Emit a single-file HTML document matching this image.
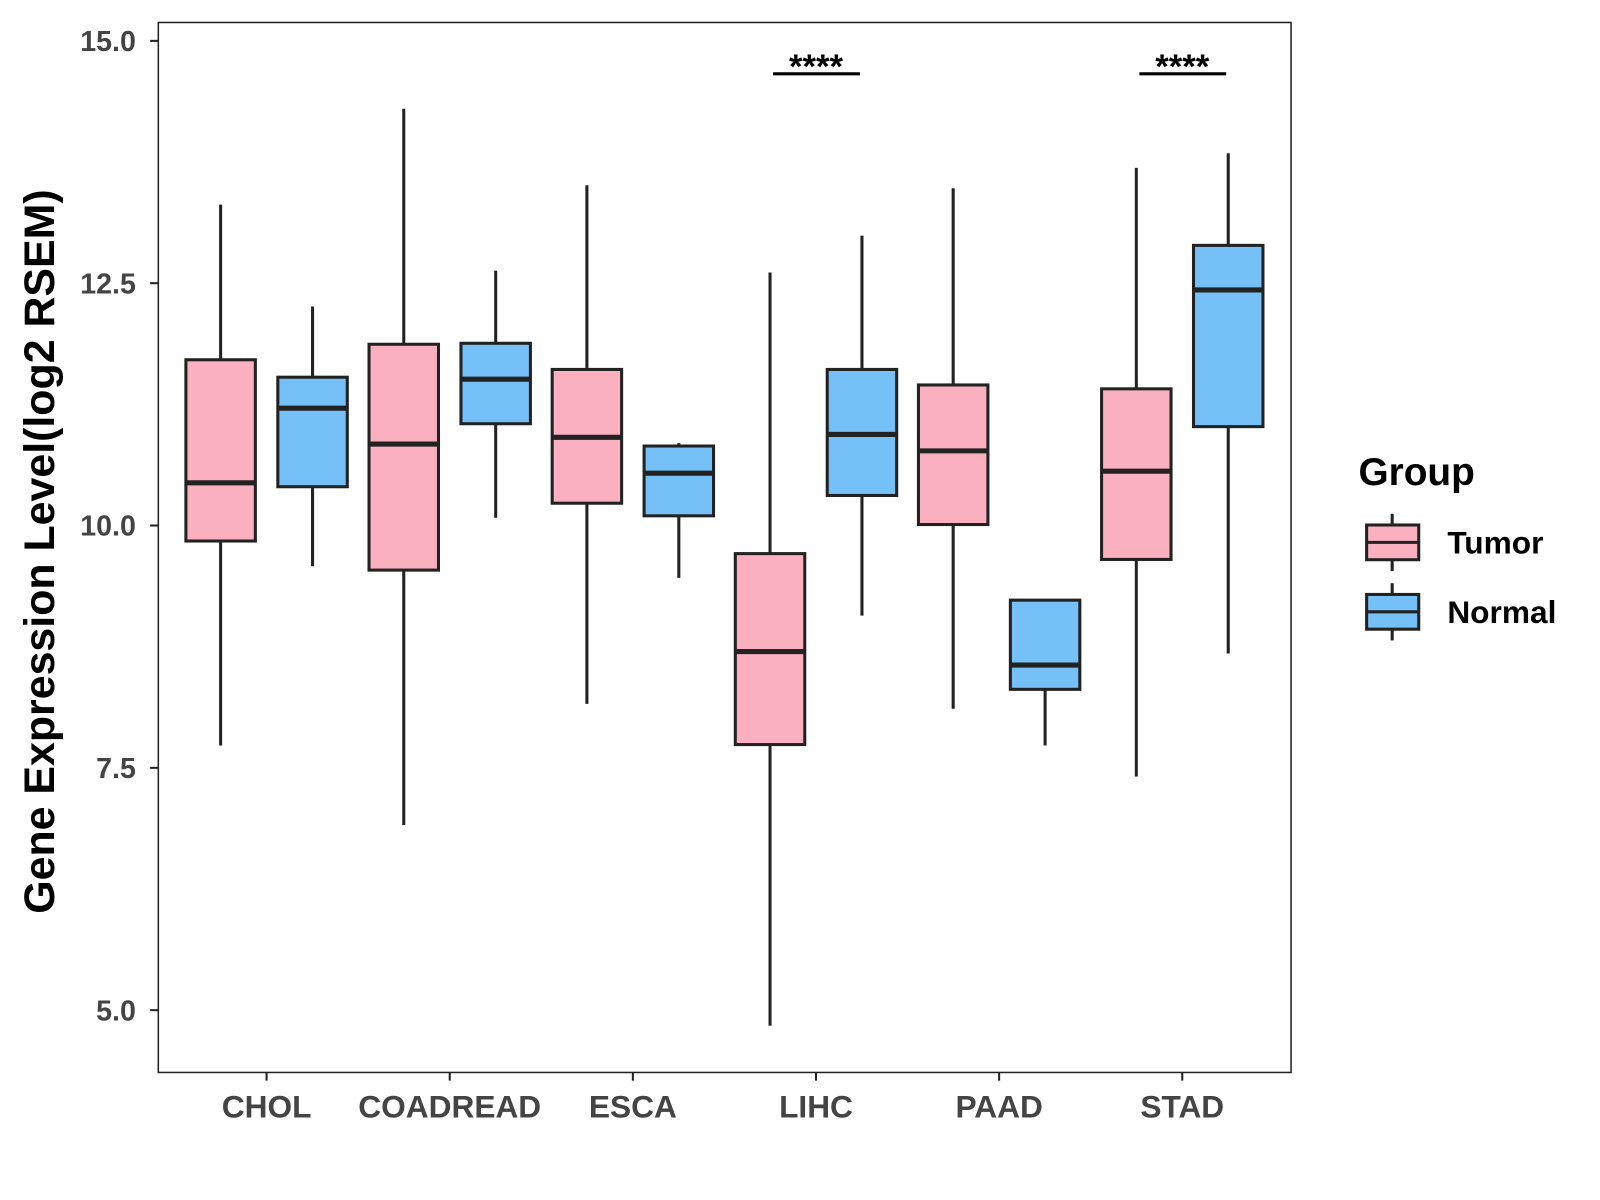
<!DOCTYPE html>
<html><head><meta charset="utf-8"><style>
body{margin:0;background:#fff;}
svg{display:block;font-family:"Liberation Sans",Arial,sans-serif;}
</style></head><body>
<svg id="chart" width="1600" height="1200" viewBox="0 0 1600 1200" xmlns="http://www.w3.org/2000/svg">
<rect x="0" y="0" width="1600" height="1200" fill="#fff"/>
<g id="plot" transform="scale(1.0214)"></g>
</svg>
<script>
const categories=["CHOL","COADREAD","ESCA","LIHC","PAAD","STAD"];
// [low, q1, median, q3, high]
const tumorStats=[[7.73,9.84,10.44,11.71,13.31],[6.91,9.54,10.84,11.87,14.30],[8.16,10.23,10.91,11.61,13.51],[4.84,7.74,8.70,9.71,12.61],[8.11,10.01,10.77,11.45,13.48],[7.41,9.65,10.56,11.41,13.69]];
const normalStats=[[9.58,10.40,11.21,11.53,12.26],[10.08,11.05,11.51,11.88,12.63],[9.46,10.10,10.54,10.82,10.85],[9.07,10.31,10.94,11.61,12.99],[7.73,8.31,8.56,9.23,9.23],[8.68,11.02,12.43,12.89,13.84]];
const yTicks=[5.0,7.5,10.0,12.5,15.0];
const sigLabels=["","","","****","","****"];
const sigY=14.66;

const NS="http://www.w3.org/2000/svg";
const g=document.getElementById('plot');
const L=155,R=1264,T=22,B=1050;
function y(v){return 989-(v-5)*94.9;}
function xc(i){return 261+i*179.3;}
function el(tag,attrs,parent){const e=document.createElementNS(NS,tag);for(const k in attrs)e.setAttribute(k,attrs[k]);(parent||g).appendChild(e);return e;}

const panel=el('rect',{x:L,y:T,width:R-L,height:B-T,fill:'none',stroke:'#222','stroke-width':1.5});



yTicks.forEach(t=>{
  const tk=el('line',{x1:L-8,x2:L,y1:y(t),y2:y(t),stroke:'#222','stroke-width':2});
  
  
  const tx=el('text',{x:L-22,y:y(t)+10,'text-anchor':'end','font-size':28,'font-weight':'bold',fill:'#444'});
  tx.textContent=t.toFixed(1);
  
  
});
categories.forEach((c,i)=>{
  const tk=el('line',{x1:xc(i),x2:xc(i),y1:B,y2:B+8,stroke:'#222','stroke-width':2});
  
  
  const tx=el('text',{x:xc(i),y:1094,'text-anchor':'middle','font-size':31,'font-weight':'bold',fill:'#444'});
  tx.textContent=c;
  
  
});
function box(cx,s,fill,name){
  const w=68;
  const wh=el('line',{x1:cx,x2:cx,y1:y(s[0]),y2:y(s[4]),stroke:'#222','stroke-width':3});
  
  
  const r=el('rect',{x:cx-w/2,y:y(s[3]),width:w,height:y(s[1])-y(s[3]),fill:fill,stroke:'#222','stroke-width':3});
  
  
  const m=el('line',{x1:cx-w/2,x2:cx+w/2,y1:y(s[2]),y2:y(s[2]),stroke:'#222','stroke-width':5});
  
  
}
categories.forEach((c,i)=>{
  box(xc(i)-45,tumorStats[i],'#FBB0C2','tumor-'+c.toLowerCase());
  box(xc(i)+45,normalStats[i],'#75C1F7','normal-'+c.toLowerCase());
  if(sigLabels[i]){
    const ln=el('line',{x1:xc(i)-42,x2:xc(i)+43,y1:y(sigY),y2:y(sigY),stroke:'#000','stroke-width':3});
    
    
    const tx=el('text',{x:xc(i),y:y(sigY)+4,'text-anchor':'middle','font-size':34,'font-weight':'bold',fill:'#000'});
    tx.textContent=sigLabels[i];
    
    
  }
});
const yt=el('text',{x:0,y:0,transform:'translate(53,540) rotate(-90)','text-anchor':'middle','font-size':42,'font-weight':'bold',fill:'#000'});
yt.textContent='Gene Expression Level(log2 RSEM)';



const lt=el('text',{x:1330,y:475,'font-size':38,'font-weight':'bold',fill:'#000'});
lt.textContent='Group';


[['Tumor','#FBB0C2',531],['Normal','#75C1F7',599]].forEach(([lab,col,cy])=>{
  const k=el('g',{});
  
  
  el('line',{x1:1363,x2:1363,y1:cy-28,y2:cy+28,stroke:'#222','stroke-width':3},k);
  el('rect',{x:1338,y:cy-17,width:51,height:34,fill:col,stroke:'#222','stroke-width':3},k);
  el('line',{x1:1338,x2:1389,y1:cy,y2:cy,stroke:'#222','stroke-width':3},k);
  const t=el('text',{x:1417,y:cy+11,'font-size':31,'font-weight':'bold',fill:'#000'},k);
  t.textContent=lab;
});
</script>
</body></html>
